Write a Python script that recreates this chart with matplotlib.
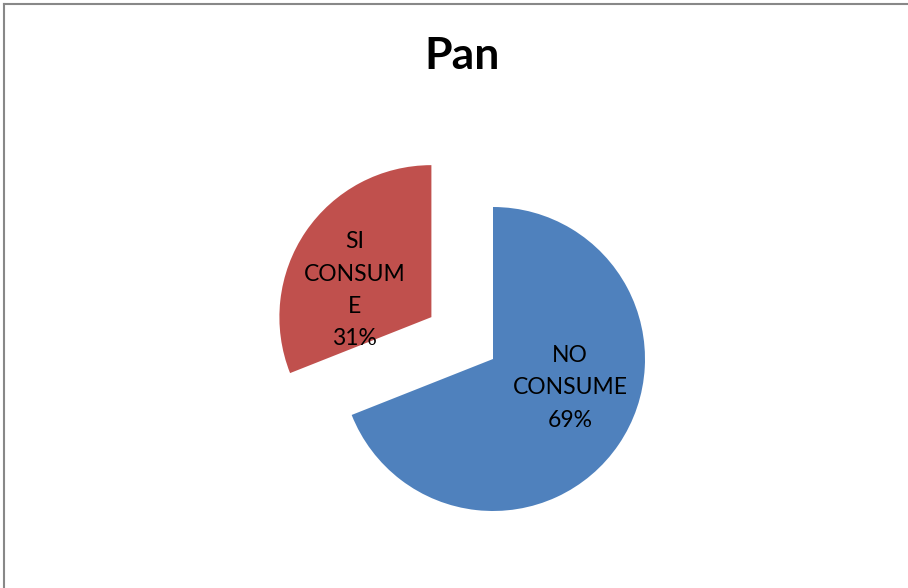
"""Pie chart: consumo de pan"""
from matplotlib import pyplot as plt
from matplotlib.lines import Line2D

categories = ["NO\nCONSUME", "SI\nCONSUM\nE"]
shares = [69, 31]
colors = ["#4F81BD", "#C0504D"]
# explode as fraction of the radius
explode = [0, 0.49]
# label offsets from each wedge's apex, in pixels (y up)
label_offsets = [(77, -29), (-77, 27)]

W, H = 908, 588
RADIUS = 152


def main():
    plt.rcParams["font.family"] = ["Lato", "DejaVu Sans"]
    fig = plt.figure(figsize=(W / 100, H / 100), dpi=100)
    ax = fig.add_axes([0, 0, 1, 1])

    # matplotlib's explode is in data units, so scale by radius
    wedges, _ = ax.pie(shares, colors=colors,
                       explode=[e * RADIUS for e in explode],
                       startangle=90, counterclock=False,
                       center=(493, H - 359), radius=RADIUS,
                       wedgeprops=dict(linewidth=0))
    ax.set_xlim(0, W)
    ax.set_ylim(0, H)
    ax.set_aspect("equal")
    ax.axis("off")

    for w, name, val, (dx, dy) in zip(wedges, categories, shares,
                                      label_offsets):
        cx, cy = w.center
        ax.text(cx + dx, cy + dy, f"{name}\n{val}%", ha="center",
                va="center", fontsize=16.5, linespacing=1.66,
                color="black")

    fig.text(462 / W, 1 - 56 / H, "Pan", ha="center", va="center",
             fontsize=32, fontweight="bold")

    # chart border (only top and left visible)
    fig.add_artist(Line2D([3.5 / W, 1], [1 - 3.5 / H, 1 - 3.5 / H],
                          transform=fig.transFigure, color="#888888",
                          linewidth=1.5))
    fig.add_artist(Line2D([3.5 / W, 3.5 / W], [0, 1 - 3.5 / H],
                          transform=fig.transFigure, color="#888888",
                          linewidth=1.5))

    fig.savefig("out.png", dpi=100)


if __name__ == '__main__':
    main()
